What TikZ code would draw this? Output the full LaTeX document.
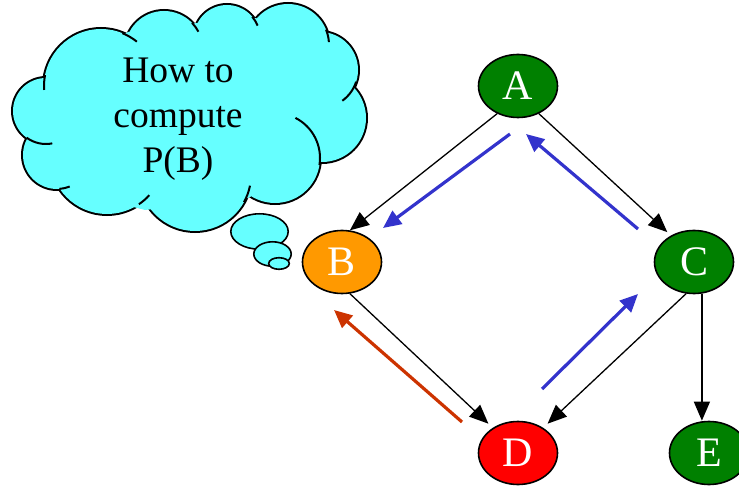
\documentclass[tikz,border=0pt]{standalone}
\usepackage{fontspec}
\setmainfont{Liberation Serif}
\usetikzlibrary{shapes.geometric,arrows.meta}
\definecolor{cloudcyan}{RGB}{102,255,255}
\definecolor{nodegreen}{RGB}{0,128,0}
\definecolor{nodeorange}{RGB}{255,153,0}
\definecolor{nodered}{RGB}{255,0,0}
\definecolor{flowblue}{RGB}{51,51,204}
\definecolor{flowred}{RGB}{204,51,0}
\begin{document}
\begin{tikzpicture}[x=1pt,y=-1pt,
  var/.style={ellipse, draw=black, line width=1.6pt, minimum width=79pt,
    minimum height=63pt, inner sep=0pt, text=white,
    font=\fontsize{42}{48}\selectfont},
  edge/.style={line width=1.3pt, -{Triangle[length=19pt,width=16pt]}},
  flow/.style={line width=3.2pt, -{Triangle[length=18pt,width=16pt]}},
  thought/.style={font=\fontsize{37.5}{45}\selectfont, anchor=base, inner sep=0pt},
  bubble/.style={fill=cloudcyan, draw=black, line width=1.6pt},
  crease/.style={draw=black, line width=2pt}]
\useasboundingbox (0,0) rectangle (739,486);

% ---- thought cloud: union of lobes, outer outline only ----
\def\lobes{46/111/33, 57/155/34, 107/157/57, 195/175/56, 275/158/45,
  322/118/44, 320/70/38, 288/45/41, 227/38/33, 164/50/39, 101/86/57}
\foreach \cx/\cy/\r in \lobes
  \draw[line width=4pt] (\cx,\cy) circle[radius=\r];
\foreach \cx/\cy/\r in \lobes
  \fill[cloudcyan] (\cx,\cy) circle[radius=\r];
\fill[cloudcyan] (45,80) -- (30,138) -- (60,188) -- (145,210) -- (248,198)
  -- (318,160) -- (355,85) -- (326,33) -- (255,18) -- (197,23) -- (128,32) -- cycle;
% creases where lobes tuck into the cloud
\foreach \cx/\cy/\r/\a/\b in {101/86/57/-68/-51, 101/86/57/191/176,
  46/111/33/126/79, 57/155/34/86/68, 107/157/57/56/42, 195/175/56/29/11,
  275/158/45/9/-63, 320/70/38/18/54, 288/45/41/-22/-4, 227/38/33/-40/-22,
  164/50/39/-44/-28}
  \draw[crease] (\cx,\cy) ++(\a:\r) arc[start angle=\a, end angle=\b, radius=\r];

\node[thought] (q1) at (178,83) {How to};
\node[thought] (q2) at (178,128) {compute};
\node[thought] (q3) at (178,173) {P(B)};

% trailing bubbles
\filldraw[bubble] (259.5,231.5) ellipse[x radius=28.7, y radius=17.7];
\filldraw[bubble] (272.5,254) ellipse[x radius=18.7, y radius=12.2];
\filldraw[bubble] (279,263.5) ellipse[x radius=10.3, y radius=5.8];

% ---- network ----
\node[var, fill=nodegreen]  (A) at (518,86)  {A};
\node[var, fill=nodeorange] (B) at (342,262) {B};
\node[var, fill=nodegreen]  (C) at (694,262) {C};
\node[var, fill=nodered]    (D) at (518,453) {D};
\node[var, fill=nodegreen]  (E) at (709,453) {E};

\draw[edge] (A.233) -- (B.76);
\draw[edge, shorten >=5pt] (A.307) -- (C.131);
\draw[edge, shorten >=6pt] (B.284) -- (D.135);
\draw[edge, shorten >=6pt] (C.256) -- (D.45);
\draw[edge] (C.284) -- (C.284 |- E.north);

% message passing
\coordinate (ab1) at (510,134);
\coordinate (ab2) at (383,228);
\coordinate (ca1) at (638,229);
\coordinate (ca2) at (526,134);
\coordinate (dc1) at (542,389);
\coordinate (dc2) at (638,294);
\coordinate (db1) at (462,422);
\coordinate (db2) at (334,310);
\draw[flow, flowblue] (ab1) -- (ab2);
\draw[flow, flowblue] (ca1) -- (ca2);
\draw[flow, flowblue] (dc1) -- (dc2);
\draw[flow, flowred]  (db1) -- (db2);
\end{tikzpicture}
\end{document}
